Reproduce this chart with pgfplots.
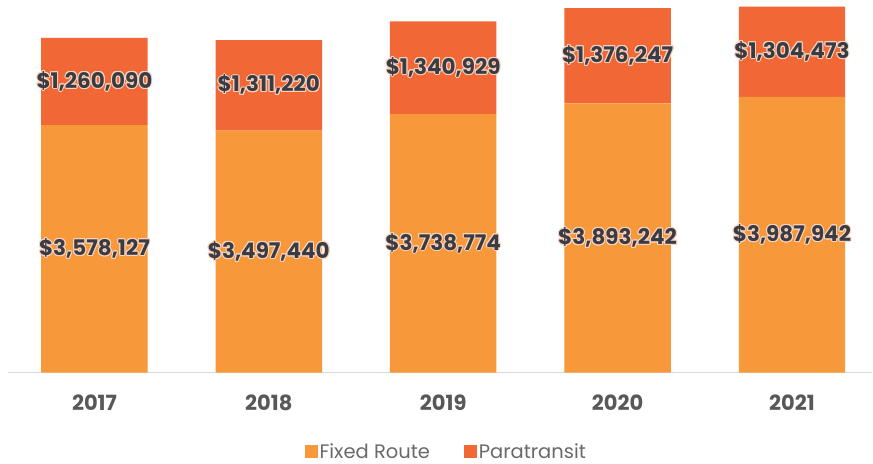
\documentclass[border=0pt]{standalone}
\usepackage{pgfplots}
\pgfplotsset{compat=1.18}
\usepackage{fontspec}
\setmainfont{Poppins}
\usepackage{contour}
\contourlength{1.0pt}
\definecolor{fixed}{RGB}{247,153,58}
\definecolor{para}{RGB}{241,104,54}
\definecolor{lbl}{RGB}{58,60,68}
\definecolor{tickc}{RGB}{88,88,88}
\definecolor{legtext}{RGB}{105,105,105}
\definecolor{halo}{RGB}{250,212,192}
\begin{document}
\begin{tikzpicture}
\pgfplotsset{base/.style={
  at={(0,0)}, anchor=south west, scale only axis,
  width=865pt, height=373pt,
  xmin=-0.4957, xmax=4.4613, ymin=0, ymax=5387000,
  clip=false,
}}
\begin{axis}[base, ybar stacked, bar width=106.5pt,
  hide y axis,
  axis x line*=bottom,
  x axis line style={-, draw=black!15, line width=1.2pt},
  xtick={0,1,2,3,4}, xticklabels={2017,2018,2019,2020,2021},
  major tick length=0pt,
  xticklabel style={font=\fontsize{21}{24}\selectfont\bfseries, text=tickc, yshift=-19pt},
  legend style={at={(0.507,-0.212)}, anchor=center, draw=none, fill=none,
    legend columns=2, font=\fontsize{19.5}{22}\selectfont, text=legtext,
    /tikz/every even column/.append style={column sep=32pt}},
  legend image code/.code={\fill[#1, draw=none] (0pt,-6pt) rectangle (13pt,7pt);},
]
\addplot[fill=fixed, draw=none] coordinates {(0,3578127) (1,3497440) (2,3738774) (3,3893242) (4,3987942)};
\addplot[fill=para, draw=none] coordinates {(0,1260090) (1,1311220) (2,1340929) (3,1376247) (4,1304473)};
\legend{Fixed Route, Paratransit}
\end{axis}
\begin{axis}[base, axis lines=none]
\addplot[only marks, mark=none, nodes near coords={\contour{halo}{\pgfplotspointmeta}},
  point meta=explicit symbolic,
  nodes near coords style={anchor=center, font=\fontsize{21.5}{24}\selectfont\bfseries, text=lbl}]
  table[meta=label] {
x y label
0 1789063 {\$3,578,127}
1 1748720 {\$3,497,440}
2 1869387 {\$3,738,774}
3 1946621 {\$3,893,242}
4 1993971 {\$3,987,942}
0 4208172 {\$1,260,090}
1 4153050 {\$1,311,220}
2 4409238 {\$1,340,929}
3 4581365 {\$1,376,247}
4 4640178 {\$1,304,473}
};
\end{axis}
\path (-8pt,-91pt) rectangle (865pt,373pt);
\end{tikzpicture}
\end{document}
